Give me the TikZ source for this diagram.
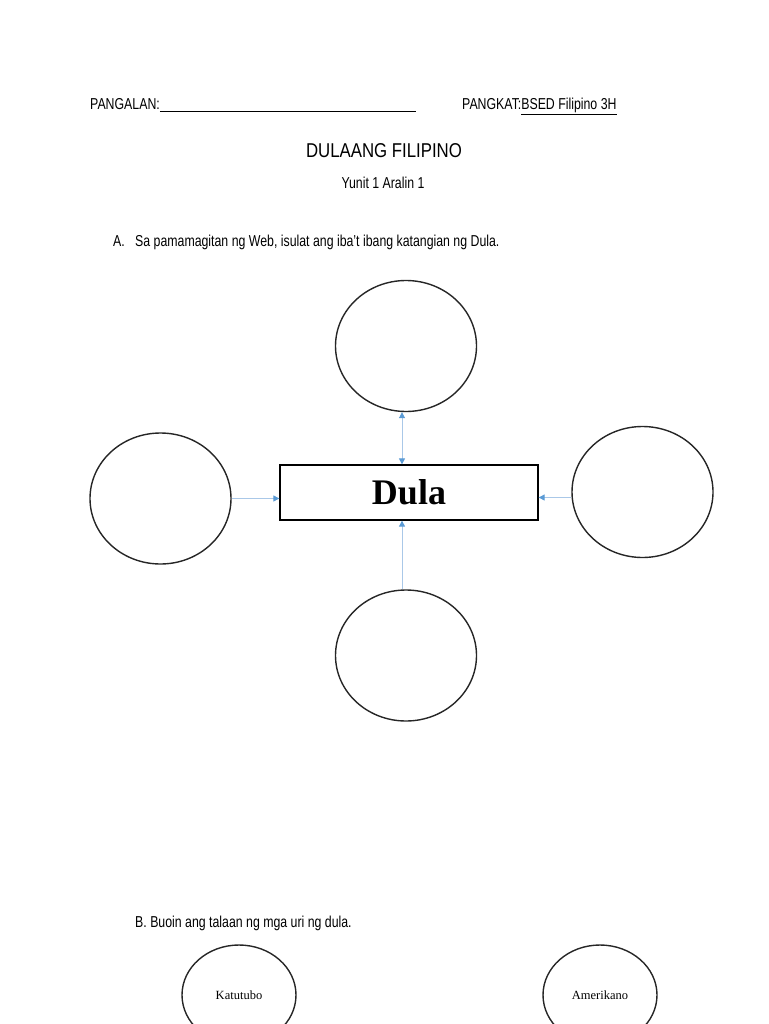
\documentclass[tikz,border=0pt]{standalone}
\usepackage{fontspec}
\setmainfont{Liberation Sans}[FakeStretch=0.78]
\newfontfamily\pamagatfont{Liberation Sans}[FakeStretch=0.84]
\newfontfamily\serifdula{Liberation Serif}
\usetikzlibrary{shapes.geometric,arrows.meta}

\definecolor{webdulo}{RGB}{91,155,213}
\definecolor{weblinya}{RGB}{170,200,232}

\tikzset{
  dulo/.tip={Triangle[fill=webdulo,color=webdulo,length=6pt,width=6pt]},
  bilog/.style={ellipse, draw=black!85, line width=1.4pt, minimum width=141pt, minimum height=131pt, inner sep=0pt},
  webarrow/.style={draw=weblinya, line width=1pt, -dulo},
  teksto/.style={anchor=base west, inner sep=0pt, font=\fontsize{15.8}{18}\selectfont},
}

\begin{document}
\begin{tikzpicture}[x=1pt,y=-1pt]
\useasboundingbox (0,0) rectangle (768,1024);

% ulo ng papel
\node [teksto] (pangalan) at (90,110) {PANGALAN:\rule[-1.5pt]{256pt}{0.8pt}};
\node [teksto] (pangkat) at (462,110) {PANGKAT:\underline{BSED Filipino 3H}};
\node [teksto, anchor=base, font=\pamagatfont\fontsize{20}{22}\selectfont] (pamagat) at (384,158) {DULAANG FILIPINO};
\node [teksto, anchor=base] (yunit) at (383,189) {Yunit 1 Aralin 1};

\node [teksto] (titikA) at (113,247) {A.};
\node [teksto] (panutoA) at (135,247) {Sa pamamagitan ng Web, isulat ang iba't ibang katangian ng Dula.};

% web
\node [draw, line width=1.3pt, minimum width=258pt, minimum height=55pt, inner sep=0pt,
       font=\serifdula\bfseries\fontsize{36}{40}\selectfont] (dula) at (409,492.5) {Dula};

\node [bilog] (itaas) at (406,346) {};
\node [bilog] (kaliwa) at (160.5,498.5) {};
\node [bilog] (kanan) at (642.5,492) {};
\node [bilog] (ibaba) at (406,655.5) {};

\draw [webarrow, dulo-dulo] ([xshift=-4pt]itaas.south) -- ([xshift=-4pt]itaas.south |- dula.north);
\draw [webarrow] (kaliwa.east) -- (kaliwa.east -| dula.west);
\draw [webarrow] ([yshift=-5.5pt]kanan.west) -- ([yshift=-5.5pt]kanan.west -| dula.east);
\draw [webarrow] ([xshift=-4pt]ibaba.north) -- ([xshift=-4pt]ibaba.north |- dula.south);

% bahagi B
\node [teksto] (panutoB) at (135,927) {B. Buoin ang talaan ng mga uri ng dula.};

\node [bilog, minimum width=114pt, minimum height=100pt, font=\serifdula\fontsize{12.5}{14}\selectfont] (katutubo) at (239,995) {Katutubo};
\node [bilog, minimum width=114pt, minimum height=100pt, font=\serifdula\fontsize{12.5}{14}\selectfont] (amerikano) at (600,995) {Amerikano};

\end{tikzpicture}
\end{document}
